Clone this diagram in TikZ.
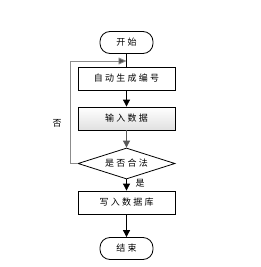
\documentclass[tikz,border=0pt]{standalone}
\usepackage{fontspec}
\newfontfamily\cjk[LetterSpace=25]{Noto Sans CJK SC}
\usetikzlibrary{arrows.meta,shapes.geometric,shadows}
\begin{document}
\begin{tikzpicture}[x=1pt,y=-1pt,
  every node/.style={font=\cjk\fontsize{9}{11}\selectfont},
  term/.style={draw=black,line width=0.8pt,rounded corners=10pt,minimum width=53pt,minimum height=22pt,inner sep=0pt},
  proc/.style={draw=black,line width=0.8pt,minimum width=97pt,minimum height=23pt,inner sep=0pt,fill=white,
     drop shadow={shadow xshift=1.2pt,shadow yshift=-1.2pt,opacity=0.45,fill=gray}},
  dec/.style={draw=black,line width=0.8pt,diamond,aspect=3.1,minimum width=97pt,minimum height=31pt,inner sep=0pt},
  arr/.style={-{Triangle[length=7pt,width=7pt]},line width=0.8pt},
  lbl/.style={inner sep=0pt}]
\useasboundingbox (0,0) rectangle (261,267);
\node[term] (start) at (126.5,42.5) {开始};
\node[proc] (b1) at (126.5,78.5) {自动生成编号};
\node[proc,top color=white,bottom color=black!12] (b2) at (126.5,118.5) {输入数据};
\node[dec] (d) at (126.5,163.5) {是否合法};
\node[proc] (b3) at (126.5,202.5) {写入数据库};
\node[term] (end) at (126.5,248.5) {结束};
\coordinate (lp) at (126.5,61);
\draw[line width=0.8pt] (start) -- (b1);
\draw[arr] (b1) -- (b2);
\draw[arr,draw=black!65,fill=black!65] (b2) -- (d);
\draw[arr] (d) -- (b3);
\draw[arr] (b3) -- (end);
\draw[arr,draw=black!45,-{Triangle[length=8pt,width=7pt,fill=black!70]}] (d.west) -- (70,163.5) -- (70,61) -- (lp);
\node[lbl] (no) at (57,123) {否};
\node[lbl] (yes) at (140,183) {是};
\end{tikzpicture}
\end{document}
